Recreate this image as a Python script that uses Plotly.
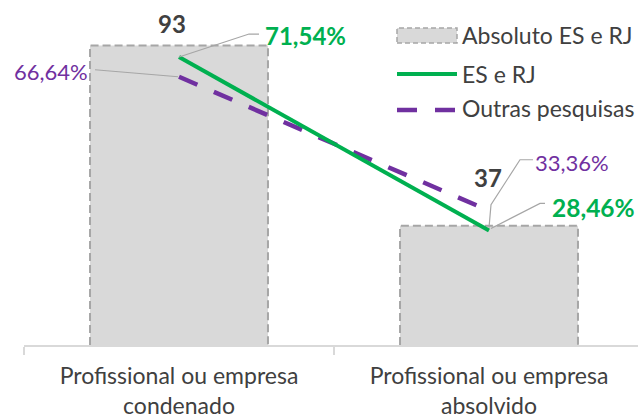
import plotly.graph_objects as go

# ---- data ----
categories = ["Profissional ou empresa<br>condenado", "Profissional ou empresa<br>absolvido"]
absoluto = [93, 37]
es_rj = [71.54, 28.46]
outras = [66.64, 33.36]
legend_names = ["Absoluto ES e RJ", "ES e RJ", "Outras pesquisas"]


def pct(v):
    return f"{v:.2f}".replace(".", ",") + "%"


# ---- layout geometry ----
W, H = 638, 418
L, T, B, R = 24, 23, 73, 0
plot_w = W - L - R
plot_h = H - T - B
cat_px = 310
xs = list(range(len(categories)))
x_range = [-0.5, -0.5 + plot_w / cat_px]
bar_w = 0.574

GRAY_FILL = "#d9d9d9"
GRAY_EDGE = "#a6a6a6"
AXIS = "#d9d9d9"
LEADER = "#a6a6a6"
GREEN = "#00b050"
PURPLE = "#7030a0"
TEXT = "#404040"
FONT = "Lato"
FS = 23
LFS = 23
PDASH = "20px,18px"


def px(x):
    return (x - L) / plot_w


def py(y):
    return (H - B - y) / plot_h


fig = go.Figure()
fig.add_trace(go.Bar(x=xs, y=absoluto, width=bar_w, name=legend_names[0],
                     marker=dict(color=GRAY_FILL, line=dict(width=0)),
                     showlegend=False, hoverinfo="skip"))
for i, v in zip(xs, absoluto):
    fig.add_trace(go.Scatter(x=[i - bar_w / 2, i - bar_w / 2, i + bar_w / 2, i + bar_w / 2],
                             y=[0, v, v, 0], mode="lines",
                             line=dict(color=GRAY_EDGE, width=2, dash="8px,4px"),
                             showlegend=False, hoverinfo="skip"))
fig.add_trace(go.Scatter(x=xs, y=outras, yaxis="y2", mode="lines", name=legend_names[2],
                         line=dict(color=PURPLE, width=4.5, dash=PDASH), showlegend=False))
fig.add_trace(go.Scatter(x=xs, y=es_rj, yaxis="y2", mode="lines", name=legend_names[1],
                         line=dict(color=GREEN, width=4), showlegend=False))

ann = []
shapes = []

# bar value labels
ann.append(dict(x=xs[0], y=absoluto[0], xref="x", yref="y", text=str(absoluto[0]),
                showarrow=False, xshift=-7, yshift=22, yanchor="middle",
                font=dict(family=FONT, size=24, color=TEXT, weight="bold")))
ann.append(dict(x=xs[1], y=absoluto[1], xref="x", yref="y", text=str(absoluto[1]),
                showarrow=False, xshift=-1, yshift=48, yanchor="middle",
                font=dict(family=FONT, size=24, color=TEXT, weight="bold")))

# percentage labels
ann.append(dict(x=xs[0], y=es_rj[0], xref="x", yref="y2", text=pct(es_rj[0]),
                showarrow=False, xanchor="left", xshift=84, yshift=22, yanchor="middle",
                font=dict(family=FONT, size=24, color=GREEN, weight="bold")))
ann.append(dict(x=xs[1], y=es_rj[1], xref="x", yref="y2", text=pct(es_rj[1]),
                showarrow=False, xanchor="left", xshift=61, yshift=23, yanchor="middle",
                font=dict(family=FONT, size=24.5, color=GREEN, weight="bold")))
ann.append(dict(x=xs[0], y=outras[0], xref="x", yref="y2", text=pct(outras[0]),
                showarrow=False, xanchor="right", xshift=-89, yshift=5, yanchor="middle",
                font=dict(family=FONT, size=22, color=PURPLE)))
ann.append(dict(x=xs[1], y=outras[1], xref="x", yref="y2", text=pct(outras[1]),
                showarrow=False, xanchor="left", xshift=44, yshift=48, yanchor="middle",
                font=dict(family=FONT, size=22, color=PURPLE)))

# leader lines (pixel offsets from the data point)
leaders = [
    (xs[0], es_rj[0], "y2", "M0,0 L70,23 L80,23"),
    (xs[0], outras[0], "y2", "M-1,0 L-84,7"),
    (xs[1], outras[1], "y2", "M44,51 L31,51 L2,6 L0,-17"),
    (xs[1], es_rj[1], "y2", "M56,27 L51,27 L2,2"),
]
for xa, ya, yr, path in leaders:
    shapes.append(dict(type="path", xref="x", yref=yr, xsizemode="pixel", ysizemode="pixel",
                       xanchor=xa, yanchor=ya, path=path,
                       line=dict(color=LEADER, width=1.2)))

# legend (custom)
shapes.append(dict(type="rect", xref="paper", yref="paper", x0=px(397), x1=px(457),
                   y0=py(43), y1=py(28), fillcolor=GRAY_FILL,
                   line=dict(color=GRAY_EDGE, width=1.5, dash="5px,3px")))
shapes.append(dict(type="line", xref="paper", yref="paper", x0=px(397), x1=px(457),
                   y0=py(74), y1=py(74), line=dict(color=GREEN, width=4)))
shapes.append(dict(type="line", xref="paper", yref="paper", x0=px(397), x1=px(457),
                   y0=py(110), y1=py(110), line=dict(color=PURPLE, width=4.5, dash=PDASH)))
for name, yc in zip(legend_names, [35, 74, 108]):
    ann.append(dict(x=px(460), y=py(yc), xref="paper", yref="paper", text=name,
                    showarrow=False, xanchor="left", yanchor="middle",
                    font=dict(family=FONT, size=LFS, color=TEXT)))

fig.update_layout(
    width=W, height=H,
    margin=dict(l=L, r=R, t=T, b=B, pad=0),
    paper_bgcolor="white", plot_bgcolor="white",
    showlegend=False,
    annotations=ann, shapes=shapes,
    xaxis=dict(range=x_range, tickmode="array", tickvals=xs, ticktext=categories,
               showline=True, linecolor=AXIS, linewidth=1.5, ticks="",
               showgrid=False, zeroline=False, ticklabelstandoff=10,
               tickfont=dict(family=FONT, size=FS, color=TEXT),
               minor=dict(tickmode="array", tickvals=[-0.5, 0.5, 1.5], ticks="outside",
                          ticklen=8, tickcolor=AXIS, tickwidth=1.5, showgrid=False)),
    yaxis=dict(range=[0, 100], visible=False, fixedrange=True),
    yaxis2=dict(range=[0, 80], visible=False, overlaying="y", side="right"),
)

fig.write_html("out.html")
